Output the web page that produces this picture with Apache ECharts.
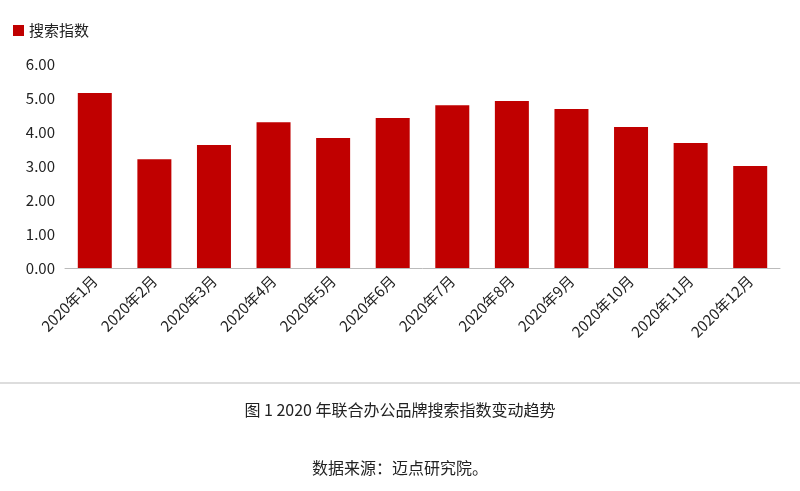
<!DOCTYPE html>
<html><head><meta charset="utf-8">
<script src="https://cdn.jsdelivr.net/npm/echarts@6/dist/echarts.min.js"></script>
<style>body{margin:0;background:#fff}#c{width:800px;height:491px}</style></head>
<body><div id="c"></div>
<script>
const categories=['2020年1月','2020年2月','2020年3月','2020年4月','2020年5月','2020年6月','2020年7月','2020年8月','2020年9月','2020年10月','2020年11月','2020年12月'];
const values=[5.15,3.2,3.62,4.29,3.82,4.41,4.79,4.91,4.68,4.15,3.68,3.0];
const seriesName='搜索指数';
const chart=echarts.init(document.getElementById('c'));
const F='"Noto Sans CJK SC","Noto Sans",sans-serif';
chart.setOption({
  animation:false,
  legend:{left:8,top:18,itemWidth:11,itemHeight:11,icon:'rect',textStyle:{fontSize:15,color:'#222',fontFamily:F},data:[seriesName]},
  grid:{left:65,right:20,top:64,bottom:223,containLabel:false},
  xAxis:{type:'category',data:categories,axisTick:{show:false},axisLine:{lineStyle:{color:'#bbb'}},
    axisLabel:{rotate:45,fontSize:15,color:'#222',fontFamily:F,interval:0,margin:10}},
  yAxis:{type:'value',min:0,max:6,interval:1,splitLine:{show:false},axisLine:{show:false},axisTick:{show:false},
    axisLabel:{formatter:v=>v.toFixed(2),fontSize:15,color:'#222',fontFamily:F,margin:10}},
  series:[{name:seriesName,type:'bar',data:values,barWidth:34,itemStyle:{color:'#c00000'}}],
  graphic:[
    {type:'line',shape:{x1:0,y1:383,x2:800,y2:383},style:{stroke:'#bbb',lineWidth:1}},
    {type:'text',left:'center',top:402,style:{text:'图 1 2020 年联合办公品牌搜索指数变动趋势',fontSize:16,fill:'#222',fontFamily:F}},
    {type:'text',left:'center',top:460,style:{text:'数据来源：迈点研究院。',fontSize:16,fill:'#222',fontFamily:F}}
  ]
});
</script></body></html>
